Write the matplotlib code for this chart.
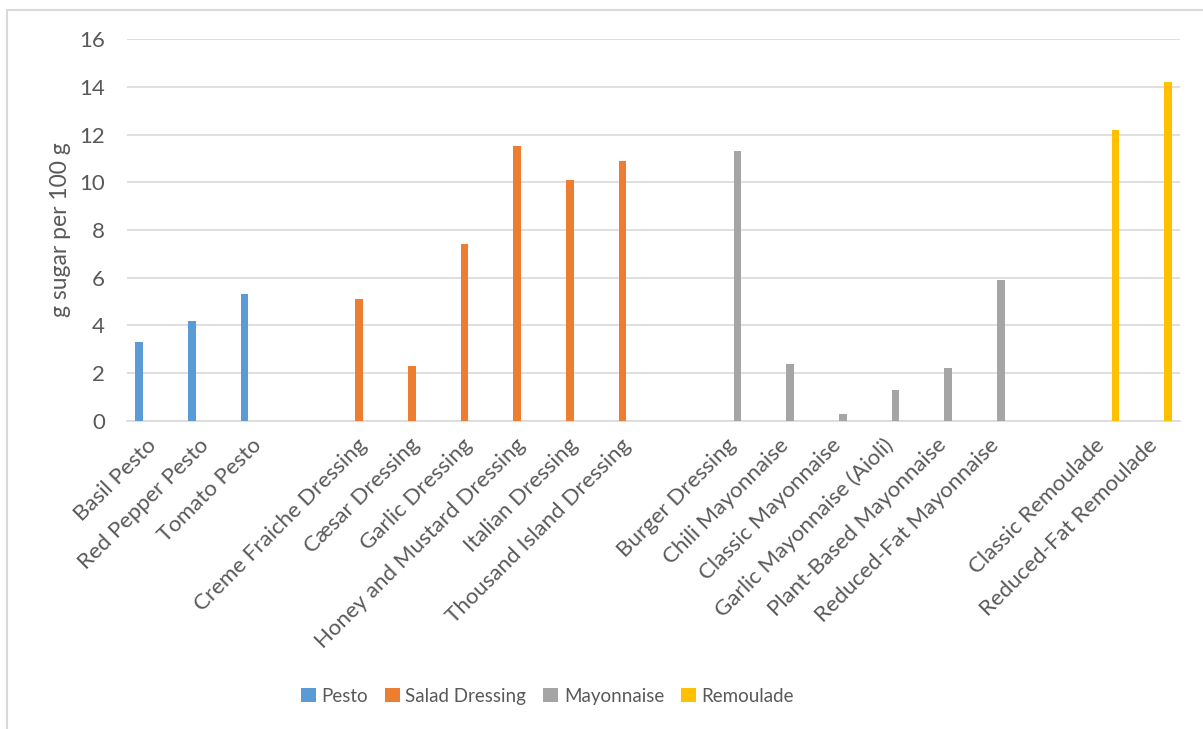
import numpy as np
import matplotlib
matplotlib.use('Agg')
import matplotlib.pyplot as plt
import matplotlib.transforms as mtransforms
from matplotlib.patches import Rectangle, Patch

plt.rcParams['font.family'] = ['Lato', 'DejaVu Sans']

# ── Data ──────────────────────────────────────────────────────────────────────
pesto_names = ['Basil Pesto', 'Red Pepper Pesto', 'Tomato Pesto']
pesto_vals = [3.3, 4.2, 5.3]

salad_names = ['Creme Fraiche Dressing', 'Cæsar Dressing', 'Garlic Dressing',
               'Honey and Mustard Dressing', 'Italian Dressing',
               'Thousand Island Dressing']
salad_vals = [5.1, 2.3, 7.4, 11.5, 10.1, 10.9]

mayo_names = ['Burger Dressing', 'Chili Mayonnaise', 'Classic Mayonnaise',
              'Garlic Mayonnaise (Aioli)', 'Plant-Based Mayonnaise',
              'Reduced-Fat Mayonnaise']
mayo_vals = [11.3, 2.4, 0.3, 1.3, 2.2, 5.9]

rem_names = ['Classic Remoulade', 'Reduced-Fat Remoulade']
rem_vals = [12.2, 14.2]

series = ['Pesto', 'Salad Dressing', 'Mayonnaise', 'Remoulade']
colors = ['#5B9BD5', '#ED7D31', '#A5A5A5', '#FFC000']
groups = [(pesto_names, pesto_vals), (salad_names, salad_vals),
          (mayo_names, mayo_vals), (rem_names, rem_vals)]

TXT = '#595959'
GRID = '#D9D9D9'

fig = plt.figure(figsize=(12.03, 7.29), dpi=100)
ax = fig.add_axes([0.1056, 0.4225, 0.8755, 0.524])

# categories: groups separated by one blank slot (as in the Excel sheet)
labels = []
pos = 0
bar_w = 0.146
step = 0.18
for si, (names, vals) in enumerate(groups):
    xs = np.arange(pos, pos + len(names))
    ax.bar(xs + (si - 1.5) * step, vals, width=bar_w, color=colors[si],
           zorder=3, label=series[si])
    labels += names
    pos += len(names)
    if si < len(groups) - 1:
        labels.append('')
        pos += 1

ax.set_xlim(-0.5, len(labels) - 0.5)
ax.set_ylim(0, 16)
ax.set_yticks(range(0, 17, 2))
ax.set_xticks(range(len(labels)))
ax.set_xticklabels(labels, rotation=45, ha='right', fontsize=16, color=TXT)
ax.tick_params(axis='x', length=0, pad=10)
ax.tick_params(axis='y', length=0, pad=16, labelsize=16, labelcolor=TXT)

# nudge rotated labels a little to the right, like Excel
shift = mtransforms.ScaledTranslation(5 / 72, 0, fig.dpi_scale_trans)
for lbl in ax.get_xticklabels():
    lbl.set_transform(lbl.get_transform() + shift)

ax.grid(axis='y', color=GRID, lw=1.2, zorder=0)
for s in ['top', 'right', 'left']:
    ax.spines[s].set_visible(False)
ax.spines['bottom'].set_color(GRID)
ax.spines['bottom'].set_linewidth(1.2)

ax.set_ylabel('g sugar per 100 g', fontsize=16.5, color=TXT)
ax.yaxis.set_label_coords(-0.053, 0.5)

handles = [Patch(facecolor=c, edgecolor='none') for c in colors]
fig.legend(handles, series, loc='center', bbox_to_anchor=(0.455, 0.045),
           ncol=4, frameon=False, fontsize=13.5, labelcolor=TXT,
           handlelength=0.8, handleheight=0.8, handletextpad=0.3,
           columnspacing=0.9)

# outer chart border
fig.add_artist(Rectangle((7 / 1203, -0.1), 1.2, 1.1 - 10 / 729,
                         transform=fig.transFigure, fill=False,
                         edgecolor=GRID, lw=1.5))

plt.savefig('out.png', dpi=100, facecolor='white')
